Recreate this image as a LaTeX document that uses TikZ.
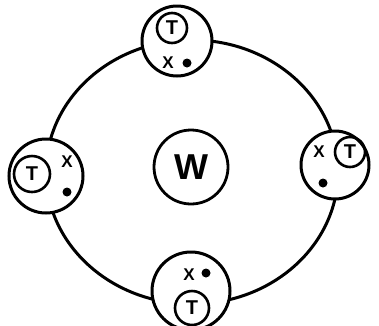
\documentclass[tikz,border=0pt]{standalone}
\usepackage{fontspec}
\setmainfont{Liberation Sans}
\usetikzlibrary{positioning}

\begin{document}
\begin{tikzpicture}[x=1pt, y=-1pt, every node/.style={font=\bfseries\fontsize{17}{17}\selectfont},
    sat/.style={circle, draw, line width=3pt, fill=white, inner sep=0pt, minimum size=#1},
    tcirc/.style={circle, draw, line width=2.6pt, inner sep=0pt, minimum size=#1, font=\bfseries\fontsize{20}{20}\selectfont},
    blob/.style={circle, fill, inner sep=0pt, minimum size=9pt}]
        \useasboundingbox (0,0) rectangle (379,325);
        \draw[line width=3pt] (192,172) ellipse [x radius=146pt, y radius=132pt];
        \node[sat=70pt] (topsat) at (177,41) {};
        \node[sat=74pt] (leftsat) at (46,176) {};
        \node[sat=68pt] (rightsat) at (335,165) {};
        \node[sat=78pt] (botsat) at (191,291) {};
        \node[tcirc=30pt] (topT) at (172,28) {T};
        \node[tcirc=36pt] (leftT) at (32,174) {T};
        \node[tcirc=30pt] (rightT) at (350,152) {T};
        \node[tcirc=34pt] (botT) at (192,308) {T};
        \node (topX) at (168,63) {X};
        \node (leftX) at (67,162) {X};
        \node (rightX) at (319,152) {X};
        \node (botX) at (189,275) {X};
        \node[blob] (topdot) at (187,63) {};
        \node[blob] (leftdot) at (67,192) {};
        \node[blob] (rightdot) at (323,183) {};
        \node[blob] (botdot) at (206,273) {};
        \node[circle, draw, line width=2.8pt, minimum size=74pt, inner sep=0pt, font=\bfseries\fontsize{36}{36}\selectfont] (work) at (191,167) {W};
      \end{tikzpicture}
\end{document}
